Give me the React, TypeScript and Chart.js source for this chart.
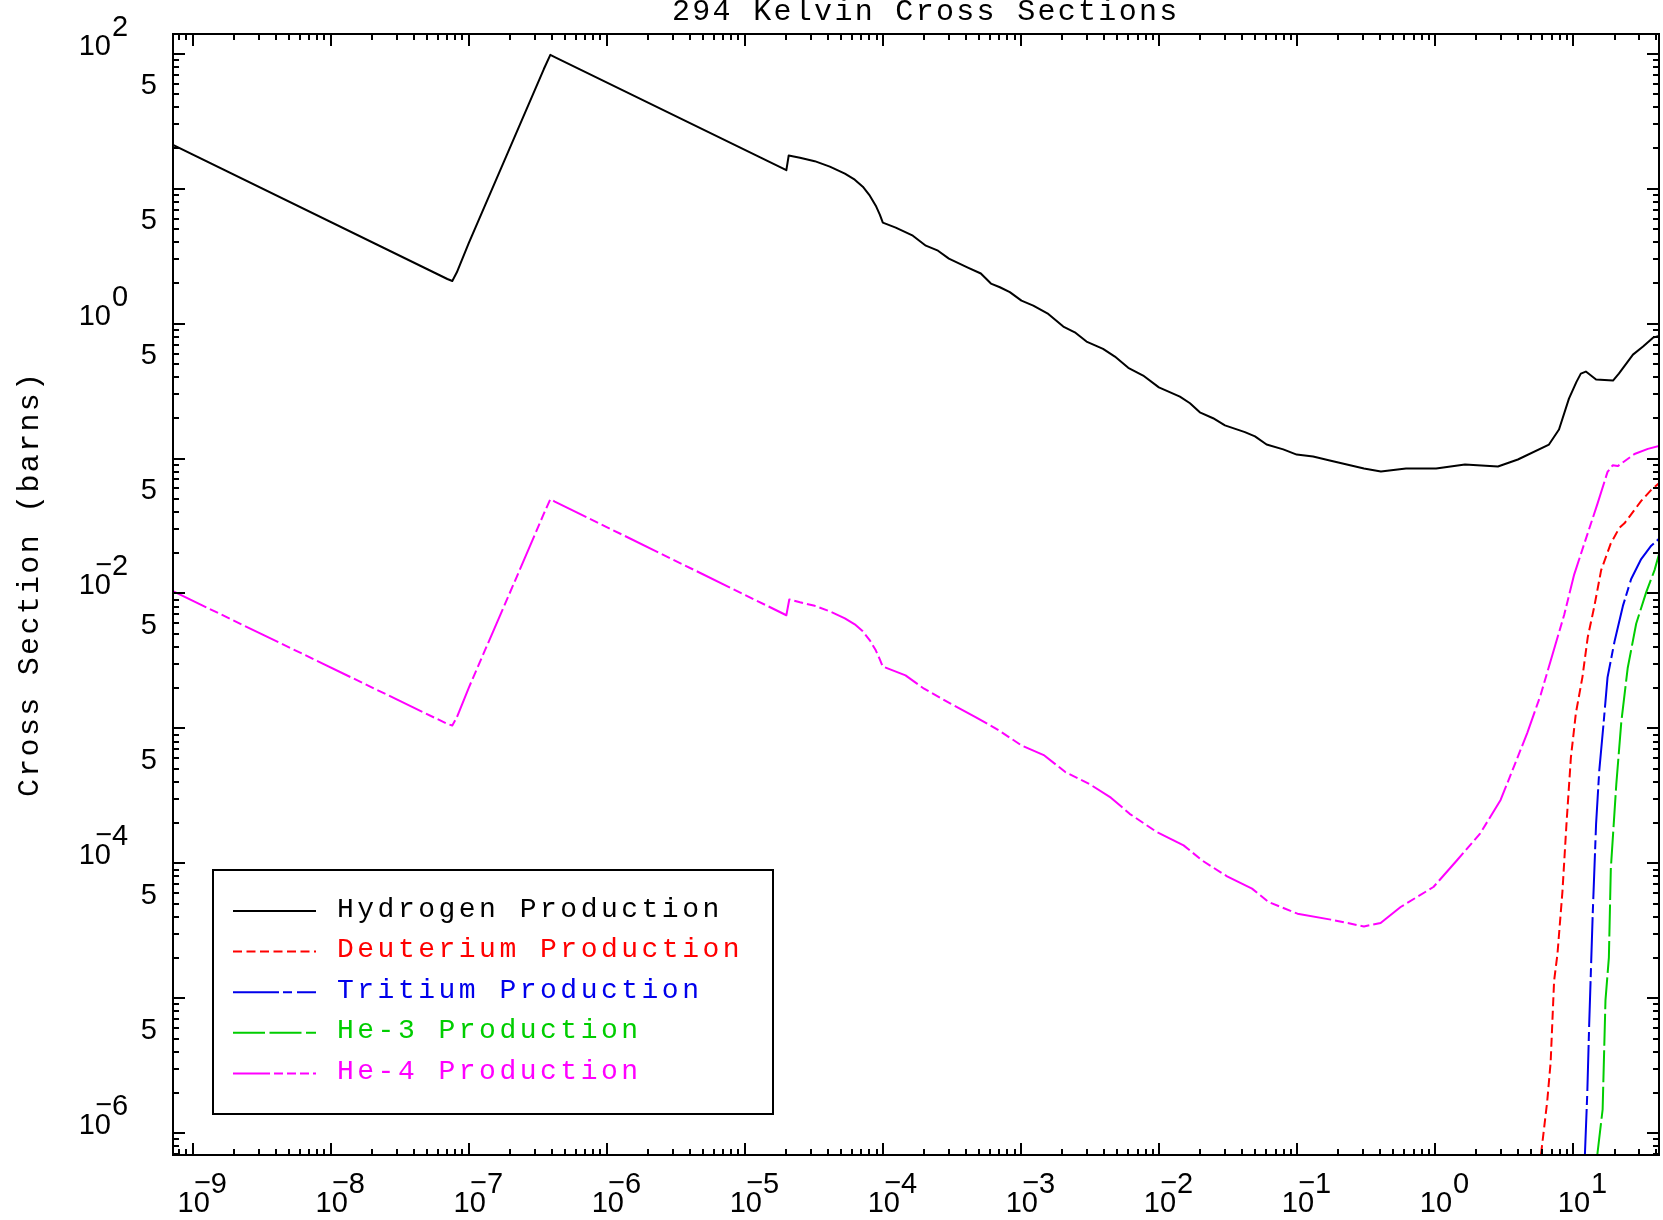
import React, { useEffect, useRef } from "react";
import { Chart, registerables } from "chart.js";

Chart.register(...registerables);

// ---------- text ----------
const chartTitle = "294 Kelvin Cross Sections";
const yAxisTitle = "Cross Section (barns)";
const seriesLabels = [
  "Hydrogen Production",
  "Deuterium Production",
  "Tritium Production",
  "He-3 Production",
  "He-4 Production",
];
const seriesColors = ["#000000", "#ff0000", "#0000eb", "#00cd00", "#ff00ff"];
const seriesDashes: number[][] = [
  [],
  [9, 4.5],
  [46, 4, 9, 5],
  [32, 4.5],
  [37, 4, 9, 4, 9, 4, 9, 4],
];

// ---------- axes ----------
const xMin = 7.2e-10;
const xMax = 42;
const yMin = 6.9e-7;
const yMax = 140;
const xLabelExponents = [-9, -8, -7, -6, -5, -4, -3, -2, -1, 0, 1];
const yLabelExponents = [2, 0, -2, -4, -6];
const yFiveLabels = [50, 5, 0.5, 0.05, 5e-3, 5e-4, 5e-5, 5e-6];

// ---------- data (energy in MeV, cross section in barns) ----------
const hydrogenEnergy = [
  7.2e-10, 7.0e-8, 7.6e-8, 8.2e-8, 1.0e-7, 2.0e-7, 3.5e-7, 3.9e-7, 4.2e-7,
  2.0e-5, 2.08e-5, 2.51e-5, 3.21e-5, 4.13e-5, 5.31e-5, 6.26e-5, 7.16e-5,
  8.05e-5, 8.89e-5, 9.51e-5, 1.0e-4,
  1.24e-4, 1.65e-4, 2.05e-4, 2.51e-4, 3.01e-4, 4.13e-4, 5.13e-4, 6.07e-4,
  7.05e-4, 8.32e-4, 1.01e-3, 1.23e-3, 1.58e-3, 2.03e-3, 2.46e-3, 2.99e-3,
  3.94e-3, 4.8e-3, 6.0e-3, 7.69e-3, 1.0e-2, 1.42e-2, 1.68e-2, 1.98e-2,
  2.47e-2, 3.01e-2, 4.2e-2, 4.97e-2, 6.03e-2, 7.96e-2, 9.96e-2, 0.131,
  0.173, 0.306, 0.406, 0.617, 1.02, 1.65, 2.86, 3.99, 6.7, 7.92, 9.35, 10.6, 11.4,
  12.4, 14.7, 19.5, 21.5, 27.2, 32.2, 38.0, 42,
];
const hydrogenXS = [
  21.1, 2.14, 2.07, 2.4, 3.95, 20.4, 77, 98, 94.5,
  13.7, 17.6, 16.97, 15.99, 14.55, 12.92, 11.66, 10.34,
  8.87, 7.48, 6.42, 5.6,
  5.14, 4.48, 3.78, 3.47, 3.03, 2.6, 2.35, 1.98,
  1.86, 1.71, 1.48, 1.36, 1.18, 0.95, 0.862, 0.736,
  0.65, 0.57, 0.47, 0.412, 0.337, 0.288, 0.257, 0.22,
  0.199, 0.176, 0.157, 0.146, 0.127, 0.117, 0.107, 0.1035,
  0.0966, 0.0843, 0.0801, 0.0843, 0.0843, 0.0903, 0.0873, 0.0984, 0.127, 0.164, 0.278, 0.37, 0.426,
  0.441, 0.385, 0.378, 0.426, 0.589, 0.676, 0.787, 0.81,
];

const deuteriumEnergy = [
  5.87, 6.51, 6.89, 7.3, 7.72, 8.39, 8.97, 9.66, 10.5, 11.7, 12.8, 14.3, 16.0,
  18.8, 21.7, 23.6, 26.4, 31.2, 36.9, 42,
];
const deuteriumXS = [
  7.0e-7, 1.73e-6, 3.36e-6, 1.35e-5, 2.13e-5, 6.2e-5, 1.95e-4, 6.1e-4, 1.3e-3,
  2.39e-3, 4.75e-3, 8.09e-3, 0.0149, 0.0235, 0.0307, 0.0331, 0.0386, 0.0485,
  0.0586, 0.0657,
];

const tritiumEnergy = [
  12.2, 12.7, 13.1, 13.9, 14.7, 15.5, 16.7, 17.8, 20.0, 23.0, 26.4, 31.2, 36.9, 42,
];
const tritiumXS = [
  6.9e-7, 2.0e-6, 6.3e-6, 4.2e-5, 1.95e-4, 4.84e-4, 1.12e-3, 2.39e-3, 4.41e-3,
  8.09e-3, 0.0128, 0.018, 0.0226, 0.0254,
];

const he3Energy = [
  15.0, 16.4, 17.2, 18.2, 18.8, 20.6, 22.4, 24.9, 28.7, 33.9, 39.0, 42,
];
const he3XS = [
  6.9e-7, 1.5e-6, 9.7e-6, 2.0e-5, 9.1e-5, 3.85e-4, 1.12e-3, 2.79e-3, 5.97e-3,
  0.0102, 0.0149, 0.0195,
];

const he4Energy = [
  7.2e-10, 7.0e-8, 7.6e-8, 8.2e-8, 1.0e-7, 2.0e-7, 3.5e-7, 3.9e-7, 4.2e-7,
  2.0e-5, 2.1e-5, 2.51e-5, 3.21e-5, 4.13e-5, 5.31e-5, 6.26e-5, 7.16e-5,
  8.05e-5, 8.89e-5, 9.51e-5, 9.98e-5,
  1.46e-4, 1.99e-4, 3.12e-4, 4.73e-4, 6.94e-4, 1.01e-3, 1.48e-3, 2.1e-3,
  3.17e-3, 4.49e-3, 6.14e-3, 9.62e-3, 1.51e-2, 2.06e-2, 3.12e-2, 4.73e-2,
  6.24e-2, 0.101, 0.176, 0.306, 0.404, 0.564, 0.975, 1.44, 2.13, 2.99, 3.74,
  4.66, 5.83, 7.09, 8.64, 10.2, 12.4, 15.1, 17.8, 19.4, 21.1, 27.9, 34.9, 42,
];
const he4XS = [
  0.0104, 1.08e-3, 1.05e-3, 1.21e-3, 2.0e-3, 0.0103, 0.039, 0.05, 0.048,
  6.9e-3, 9.03e-3, 8.6e-3, 8.1e-3, 7.38e-3, 6.55e-3, 5.91e-3, 5.24e-3,
  4.5e-3, 3.79e-3, 3.25e-3, 2.88e-3,
  2.47e-3, 1.97e-3, 1.52e-3, 1.21e-3, 9.67e-4, 7.48e-4, 6.31e-4, 4.75e-4,
  3.85e-4, 3.07e-4, 2.33e-4, 1.71e-4, 1.36e-4, 1.05e-4, 8.01e-5, 6.5e-5,
  5.17e-5, 4.24e-5, 3.83e-5, 3.41e-5, 3.61e-5, 4.75e-5, 6.68e-5, 1.05e-4,
  1.67e-4, 2.95e-4, 5.23e-4, 9.24e-4, 1.77e-3, 3.5e-3, 6.95e-3, 0.0138,
  0.0254, 0.0467, 0.0796, 0.0892, 0.0879, 0.108, 0.118, 0.124,
];

const seriesEnergies = [hydrogenEnergy, deuteriumEnergy, tritiumEnergy, he3Energy, he4Energy];
const seriesValues = [hydrogenXS, deuteriumXS, tritiumXS, he3XS, he4XS];

// ---------- drawing helpers ----------
const TICK_FONT = '29px "Liberation Sans", Arial, sans-serif';
const EXP_FONT = '29px "Liberation Sans", Arial, sans-serif';
const MONO_FONT = '"Liberation Mono", "DejaVu Sans Mono", monospace';

function drawPower(ctx: CanvasRenderingContext2D, exp: number, left10: number, baseline: number) {
  ctx.font = TICK_FONT;
  ctx.textAlign = "left";
  ctx.fillText("10", left10, baseline);
  const w10 = ctx.measureText("10").width;
  const w1 = ctx.measureText("1").width;
  ctx.font = EXP_FONT;
  const digits = String(Math.abs(exp));
  const start = left10 + w10 + 1;
  ctx.fillText(digits, start, baseline - 19);
  if (exp < 0) {
    const wm = ctx.measureText("\u2212").width;
    const zeroCenter = left10 + w1 + (w10 - w1) / 2 + 1;
    ctx.fillText("\u2212", zeroCenter - wm / 2, baseline - 20);
  }
}

const idlPlugin = {
  id: "idlFrame",
  beforeDraw(chart: any) {
    const ctx = chart.ctx;
    ctx.save();
    ctx.fillStyle = "#ffffff";
    ctx.fillRect(0, 0, chart.width, chart.height);
    ctx.restore();
  },
  afterDraw(chart: any) {
    const ctx: CanvasRenderingContext2D = chart.ctx;
    const a = chart.chartArea;
    const xs = chart.scales.x;
    const ys = chart.scales.y;
    ctx.save();
    ctx.strokeStyle = "#000";
    ctx.fillStyle = "#000";
    ctx.lineWidth = 2;
    ctx.setLineDash([]);
    ctx.strokeRect(a.left, a.top, a.right - a.left, a.bottom - a.top);

    // tick marks (inward, all four sides)
    ctx.beginPath();
    for (let e = -11; e <= 2; e++) {
      for (let m = 1; m <= 9; m++) {
        const v = m * Math.pow(10, e);
        const len = m === 1 ? 12 : 6;
        if (v >= xMin && v <= xMax) {
          const px = Math.round(xs.getPixelForValue(v));
          ctx.moveTo(px, a.bottom);
          ctx.lineTo(px, a.bottom - len);
          ctx.moveTo(px, a.top);
          ctx.lineTo(px, a.top + len);
        }
        if (v >= yMin && v <= yMax) {
          const py = Math.round(ys.getPixelForValue(v));
          ctx.moveTo(a.left, py);
          ctx.lineTo(a.left + len, py);
          ctx.moveTo(a.right, py);
          ctx.lineTo(a.right - len, py);
        }
      }
    }
    ctx.stroke();

    // x tick labels
    ctx.textBaseline = "alphabetic";
    for (const e of xLabelExponents) {
      const px = xs.getPixelForValue(Math.pow(10, e));
      ctx.font = TICK_FONT;
      const w10 = ctx.measureText("10").width;
      drawPower(ctx, e, px - w10 / 2 + 1, a.bottom + 57);
    }
    // y tick labels
    for (const e of yLabelExponents) {
      const py = ys.getPixelForValue(Math.pow(10, e));
      ctx.font = TICK_FONT;
      const w10 = ctx.measureText("10").width;
      drawPower(ctx, e, a.left - 62 - w10, py + 1);
    }
    ctx.font = TICK_FONT;
    ctx.textAlign = "right";
    for (const v of yFiveLabels) {
      const py = ys.getPixelForValue(v);
      ctx.fillText("5", a.left - 16, py);
    }

    // title
    ctx.font = "30px " + MONO_FONT;
    (ctx as any).letterSpacing = "2.3px";
    ctx.textAlign = "left";
    ctx.fillText(chartTitle, 672, 20);

    // y-axis title
    ctx.save();
    ctx.translate(38, 797);
    ctx.rotate(-Math.PI / 2);
    ctx.fillText(yAxisTitle, 0, 0);
    ctx.restore();

    // legend
    const box = { left: 213, top: 870, right: 773, bottom: 1114 };
    ctx.lineWidth = 2;
    ctx.strokeStyle = "#000";
    ctx.strokeRect(box.left, box.top, box.right - box.left, box.bottom - box.top);
    ctx.font = "28px " + MONO_FONT;
    (ctx as any).letterSpacing = "3.5px";
    chart.data.datasets.forEach((ds: any, i: number) => {
      const y = box.top + 41 + i * 40.6;
      ctx.strokeStyle = ds.borderColor;
      ctx.lineWidth = 2;
      ctx.setLineDash(ds.borderDash || []);
      ctx.beginPath();
      ctx.moveTo(box.left + 20, y);
      ctx.lineTo(box.left + 103, y);
      ctx.stroke();
      ctx.setLineDash([]);
      ctx.fillStyle = ds.borderColor;
      ctx.fillText(ds.label, box.left + 124, y + 5.5);
    });
    (ctx as any).letterSpacing = "0px";
    ctx.restore();
  },
};

export default function App() {
  const canvasRef = useRef<HTMLCanvasElement | null>(null);

  useEffect(() => {
    const canvas = canvasRef.current;
    if (!canvas) return;
    const datasets = seriesLabels.map((label, i) => ({
      label,
      data: seriesEnergies[i].map((e, j) => ({ x: e, y: seriesValues[i][j] })),
      borderColor: seriesColors[i],
      backgroundColor: seriesColors[i],
      borderDash: seriesDashes[i],
      borderWidth: 2,
      pointRadius: 0,
      tension: 0,
      fill: false,
      borderJoinStyle: "round" as const,
    }));
    const chart = new Chart(canvas, {
      type: "line",
      data: { datasets },
      options: {
        animation: false,
        responsive: false,
        devicePixelRatio: 1,
        layout: { padding: { left: 173, top: 34, right: 4, bottom: 65 } },
        scales: {
          x: { type: "logarithmic", min: xMin, max: xMax, bounds: "data", display: false },
          y: { type: "logarithmic", min: yMin, max: yMax, bounds: "data", display: false },
        },
        plugins: {
          legend: { display: false },
          title: { display: false },
          tooltip: { enabled: false },
        },
        events: [],
      },
      plugins: [idlPlugin],
    });
    return () => chart.destroy();
  }, []);

  return (
    <div style={{ position: "fixed", left: 0, top: 0, width: 1663, height: 1220, background: "#fff" }}>
      <canvas ref={canvasRef} width={1663} height={1220} style={{ display: "block" }} />
    </div>
  );
}
